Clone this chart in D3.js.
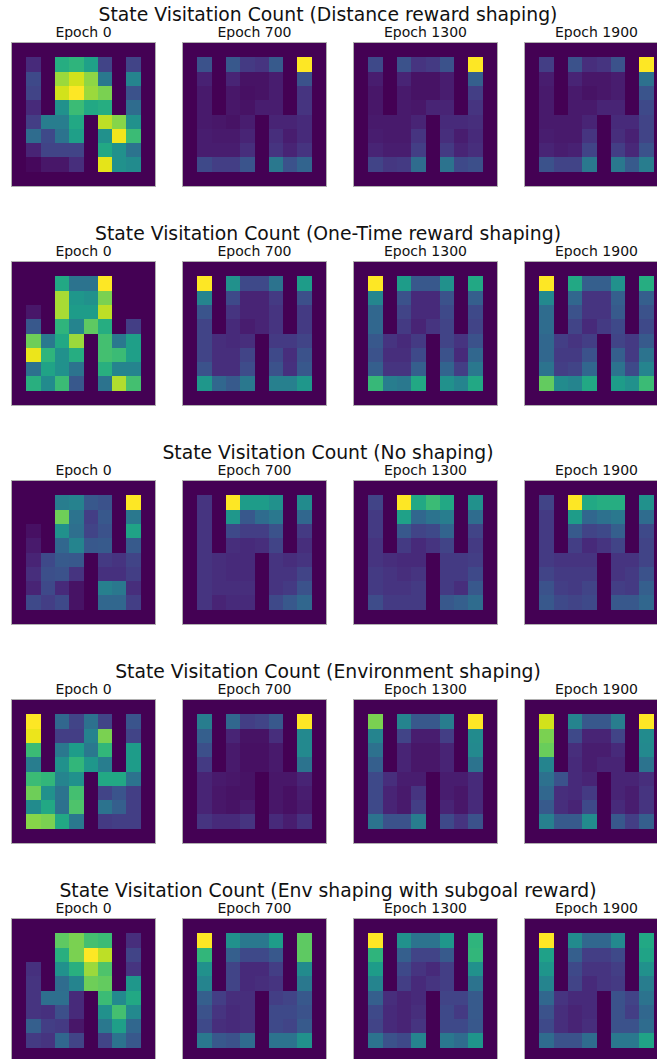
<!doctype html>
<html>
<head>
    <style>
        body { margin: 0; background: #fff; }
        svg { display: block; font-family: "DejaVu Sans", sans-serif; }
    </style>
    <script src="https://d3js.org/d3.v7.min.js"></script>
</head>
<body>
<svg width="657" height="1059"></svg>
<script>
    var epochs = ["Epoch 0", "Epoch 700", "Epoch 1300", "Epoch 1900"];
    var rowTitles = [
        "State Visitation Count (Distance reward shaping)",
        "State Visitation Count (One-Time reward shaping)",
        "State Visitation Count (No shaping)",
        "State Visitation Count (Environment shaping)",
        "State Visitation Count (Env shaping with subgoal reward)"
    ];

    // 8x8 inner maze cells (rows top->bottom), one grid per epoch
    var distanceCounts = [
        [[12,0,62,65,57,20,0,20],[22,0,85,93,83,40,0,45],[20,0,93,100,85,80,0,25],[12,0,50,68,60,62,0,35],
         [18,42,42,60,0,90,82,50],[35,22,38,56,0,50,98,68],[10,20,20,20,0,60,50,38],[2,6,6,13,0,96,50,48]],
        [[25,0,27,17,15,28,0,100],[9,0,10,5,5,8,0,25],[7,0,6,4,5,8,0,15],[7,0,6,5,8,8,0,15],
         [7,6,5,8,0,10,10,12],[8,7,7,10,0,13,8,12],[8,8,8,13,0,15,10,15],[22,18,18,26,0,40,25,32]],
        [[22,0,25,15,17,25,0,100],[8,0,10,5,5,8,0,30],[6,0,7,5,5,8,0,18],[6,0,7,6,10,10,0,15],
         [7,7,7,10,0,12,12,13],[8,7,7,15,0,13,8,12],[10,8,8,18,0,17,10,13],[20,16,17,35,0,38,22,24]],
        [[18,0,25,13,15,25,0,100],[8,0,10,6,6,8,0,37],[7,0,7,5,6,8,0,26],[7,0,7,7,10,10,0,22],
         [7,7,7,10,0,12,12,20],[8,7,7,15,0,13,9,20],[10,8,9,20,0,18,11,25],[25,20,20,40,0,40,28,42]]
    ];
    var oneTimeCounts = [
        [[0,0,60,38,38,100,0,0],[0,0,87,53,50,80,0,0],[6,0,87,55,55,90,0,0],[27,0,65,45,75,62,0,18],
         [78,40,60,85,0,70,40,56],[97,65,50,62,0,70,68,56],[37,58,50,38,0,63,45,45],[63,48,68,27,0,38,88,70]],
        [[100,0,50,22,22,38,0,55],[45,0,22,10,10,17,0,24],[26,0,15,10,10,15,0,17],[20,0,12,8,10,15,0,17],
         [20,13,12,13,0,17,17,20],[20,13,13,20,0,22,13,25],[25,13,13,23,0,25,14,27],[53,33,28,40,0,43,43,53]],
        [[100,0,55,27,27,50,0,60],[46,0,25,12,12,25,0,30],[33,0,20,12,12,22,0,22],[33,0,17,10,15,20,0,20],
         [27,15,12,17,0,20,15,25],[25,13,13,22,0,25,12,33],[30,15,15,30,0,32,18,40],[67,42,40,60,0,50,45,60]],
        [[100,0,60,30,30,50,0,62],[47,0,33,15,15,30,0,30],[35,0,25,15,15,28,0,25],[35,0,20,12,17,22,0,22],
         [33,18,15,18,0,20,17,28],[33,17,17,25,0,30,17,38],[38,18,20,33,0,38,22,45],[76,48,45,60,0,55,50,68]]
    ];
    var noShapingCounts = [
        [[0,0,42,44,27,25,0,100],[0,0,78,38,18,27,0,40],[4,0,50,36,20,25,0,58],[7,0,33,45,27,28,0,28],
         [10,22,28,27,0,17,15,20],[13,24,25,15,0,14,14,18],[10,22,12,5,0,43,40,13],[22,18,22,5,0,33,33,18]],
        [[15,0,100,55,55,50,0,48],[15,0,53,27,35,40,0,33],[15,0,22,18,18,25,0,17],[15,0,13,12,13,20,0,13],
         [15,13,12,12,0,15,13,15],[15,13,12,12,0,15,15,20],[15,13,13,13,0,15,17,25],[15,10,12,12,0,22,27,33]],
        [[20,0,100,60,68,60,0,50],[17,0,57,33,38,42,0,35],[17,0,27,20,22,32,0,20],[15,0,17,12,15,20,0,17],
         [15,13,12,12,0,17,17,18],[17,15,13,15,0,17,17,22],[17,15,15,17,0,17,13,27],[23,17,17,17,0,27,30,35]],
        [[20,0,100,60,62,62,0,50],[17,0,55,33,37,40,0,35],[17,0,28,20,22,30,0,22],[17,0,18,12,15,20,0,20],
         [17,15,15,15,0,15,15,20],[20,17,17,17,0,15,17,25],[25,18,17,20,0,18,17,30],[27,22,20,22,0,27,27,33]]
    ];
    var envCounts = [
        [[100,0,33,20,37,20,0,26],[97,0,18,18,44,80,0,20],[68,0,40,55,40,66,0,55],[42,0,50,66,53,42,0,55],
         [68,66,45,50,0,60,60,38],[78,50,38,70,0,20,26,18],[48,60,37,72,0,38,30,18],[82,80,60,40,0,17,18,18]],
        [[42,0,33,18,20,27,0,100],[30,0,10,5,5,13,0,47],[24,0,7,4,4,7,0,47],[17,0,7,4,4,7,0,38],
         [10,7,6,5,0,6,6,10],[10,6,5,5,0,6,4,8],[10,6,5,7,0,6,4,7],[15,12,12,15,0,12,8,14]],
        [[80,0,45,27,27,42,0,100],[45,0,20,8,8,18,0,48],[37,0,10,6,6,10,0,47],[30,0,10,6,6,10,0,38],
         [22,13,8,8,0,8,8,12],[22,10,7,15,0,8,6,12],[22,10,7,18,0,10,6,12],[38,25,25,42,0,22,15,25]],
        [[93,0,45,27,27,42,0,100],[80,0,22,10,10,20,0,48],[77,0,13,8,8,12,0,47],[45,0,12,8,10,10,0,38],
         [37,25,12,10,0,10,10,13],[33,13,12,17,0,10,8,15],[28,13,10,22,0,12,8,15],[43,28,28,48,0,27,18,30]]
    ];
    var subgoalCounts = [
        [[0,0,75,80,70,68,0,13],[0,0,63,80,100,90,0,20],[14,0,50,63,85,72,0,15],[15,0,35,45,78,76,0,53],
         [15,36,36,12,0,68,47,60],[15,14,24,12,0,50,70,47],[30,18,17,6,0,40,56,33],[17,15,33,20,0,20,38,27]],
        [[100,0,50,40,40,55,0,75],[66,0,30,22,22,27,0,75],[50,0,20,12,12,18,0,48],[45,0,20,12,13,15,0,40],
         [30,18,13,13,0,18,20,27],[25,15,12,13,0,22,22,25],[22,13,12,13,0,22,20,28],[40,27,25,35,0,38,38,50]],
        [[100,0,50,38,38,53,0,65],[65,0,30,20,20,28,0,66],[55,0,22,15,12,18,0,50],[45,0,18,12,15,18,0,38],
         [30,13,10,12,0,20,20,28],[22,12,10,13,0,22,17,28],[20,12,10,15,0,22,22,27],[38,25,22,45,0,40,35,52]],
        [[100,0,48,33,33,47,0,60],[57,0,30,18,18,22,0,58],[52,0,22,15,15,18,0,50],[45,0,20,12,15,17,0,42],
         [33,15,12,12,0,25,20,38],[25,13,10,12,0,25,18,33],[22,13,10,13,0,25,25,35],[35,25,25,35,0,40,40,58]]
    ];

    var rows = [distanceCounts, oneTimeCounts, noShapingCounts, envCounts, subgoalCounts];

    var svg = d3.select("svg");
    var size = 143;
    var panelX = d3.scaleLinear().domain([0, 1]).range([12, 183]);
    var panelY = d3.scaleLinear().domain([0, 1]).range([43, 262]);
    var cell = d3.scaleLinear().domain([0, 10]).range([0, size]);

    rows.forEach(function(grids, ri) {
        var top = panelY(ri);

        // row title
        svg.append("text")
            .attr("x", 328)
            .attr("y", top - 22)
            .attr("text-anchor", "middle")
            .attr("font-size", "18.8px")
            .attr("fill", "#111")
            .text(rowTitles[ri]);

        grids.forEach(function(grid, ci) {
            var left = Math.round(panelX(ci));
            // pad the maze with its outer wall
            var cells = [];
            for (var r = 0; r < 10; r++) {
                for (var c = 0; c < 10; c++) {
                    var inner = r > 0 && r < 9 && c > 0 && c < 9;
                    cells.push({ r: r, c: c, v: inner ? grid[r - 1][c - 1] : 0 });
                }
            }
            var color = d3.scaleSequential(d3.interpolateViridis)
                .domain([0, d3.max(cells, function(d) { return d.v; })]);

            var g = svg.append("g").attr("transform", "translate(" + left + "," + Math.round(top) + ")");

            g.selectAll("rect")
                .data(cells)
                .enter().append("rect")
                .attr("shape-rendering", "crispEdges")
                .attr("x", function(d) { return Math.round(cell(d.c)); })
                .attr("y", function(d) { return Math.round(cell(d.r)); })
                .attr("width", function(d) { return Math.round(cell(d.c + 1)) - Math.round(cell(d.c)); })
                .attr("height", function(d) { return Math.round(cell(d.r + 1)) - Math.round(cell(d.r)); })
                .attr("fill", function(d) { return color(d.v); });

            g.append("rect")
                .attr("x", -0.5)
                .attr("y", -0.5)
                .attr("width", size + 1)
                .attr("height", size + 1)
                .attr("fill", "none")
                .attr("stroke", "#b0b0b0")
                .attr("stroke-width", 1);

            g.append("text")
                .attr("x", size / 2)
                .attr("y", -6)
                .attr("text-anchor", "middle")
                .attr("font-size", "14px")
                .attr("fill", "#111")
                .text(epochs[ci]);
        });
    });
</script>
</body>
</html>
